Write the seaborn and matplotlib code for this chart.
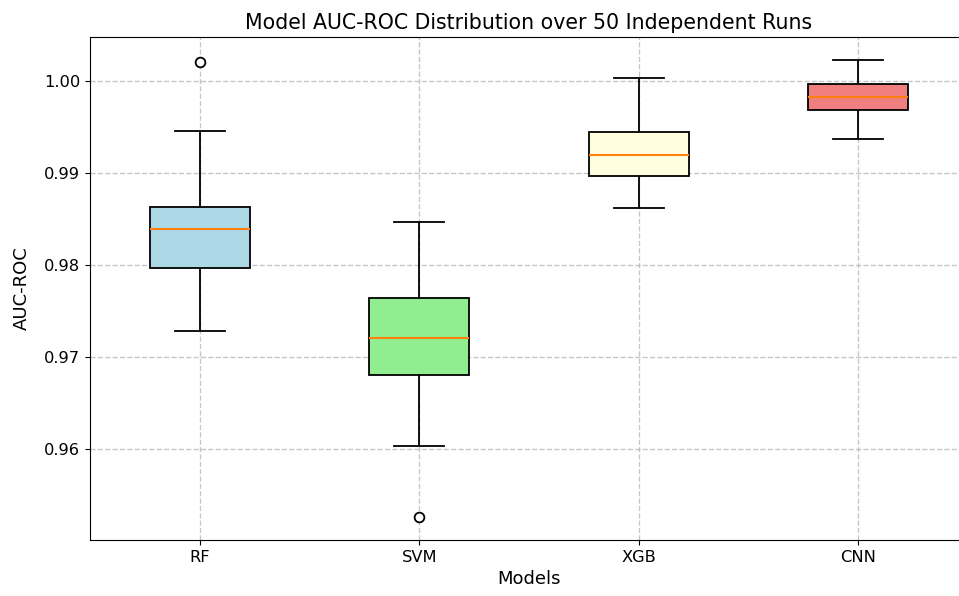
import numpy as np
import pandas as pd
import matplotlib
matplotlib.use("Agg")
import matplotlib.pyplot as plt
import seaborn as sns

models = ["RF", "SVM", "XGB", "CNN"]
rf_auc = [0.9728, 0.9760, 0.9797, 0.9815, 0.9839, 0.9850, 0.9863, 0.9946, 1.0021]
svm_auc = [0.9526, 0.9603, 0.9680, 0.9700, 0.9721, 0.9740, 0.9764, 0.9800, 0.9847]
xgb_auc = [0.9862, 0.9880, 0.9897, 0.9910, 0.9920, 0.9932, 0.9945, 0.9970, 1.0003]
cnn_auc = [0.9937, 0.9955, 0.9969, 0.9975, 0.9983, 0.9990, 0.9997, 1.0010, 1.0023]
box_colors = ["lightblue", "lightgreen", "lightyellow", "lightcoral"]

values = [rf_auc, svm_auc, xgb_auc, cnn_auc]
df = pd.DataFrame({
    "Model": np.repeat(models, [len(v) for v in values]),
    "AUC": np.concatenate(values),
})

fig = plt.figure(figsize=(9.59, 5.96), dpi=100)
ax = fig.add_axes([90 / 959, 0.094, 878 / 959, 0.844])

sns.boxplot(
    data=df, x="Model", y="AUC", hue="Model", order=models, hue_order=models,
    palette=box_colors, saturation=1, width=0.456, linecolor="black", linewidth=1.3,
    legend=False, ax=ax,
    medianprops={"color": "#ff7f0e", "linewidth": 1.5},
    flierprops={"marker": "o", "markerfacecolor": "white", "markeredgecolor": "black",
                "markersize": 7, "markeredgewidth": 1.3},
)

ax.set_axisbelow(True)
ax.grid(True, axis="both", linestyle="--", color="#b0b0b0", alpha=0.7, linewidth=1.0)
ax.xaxis.grid(True, linestyle="--", color="#b0b0b0", alpha=0.7, linewidth=1.0)
ax.set_xlim(-0.5, 3.5)
ax.set_ylim(0.9501, 1.0048)
ax.set_title("Model AUC-ROC Distribution over 50 Independent Runs", fontsize=14.8)
ax.set_xlabel("Models", fontsize=13)
ax.set_ylabel("AUC-ROC", fontsize=13, labelpad=9.5)
ax.tick_params(labelsize=11.7)
for s in ax.spines.values():
    s.set_visible(True)
    s.set_color("black")
ax.spines["right"].set_visible(False)

fig.savefig("out.png", dpi=100)
